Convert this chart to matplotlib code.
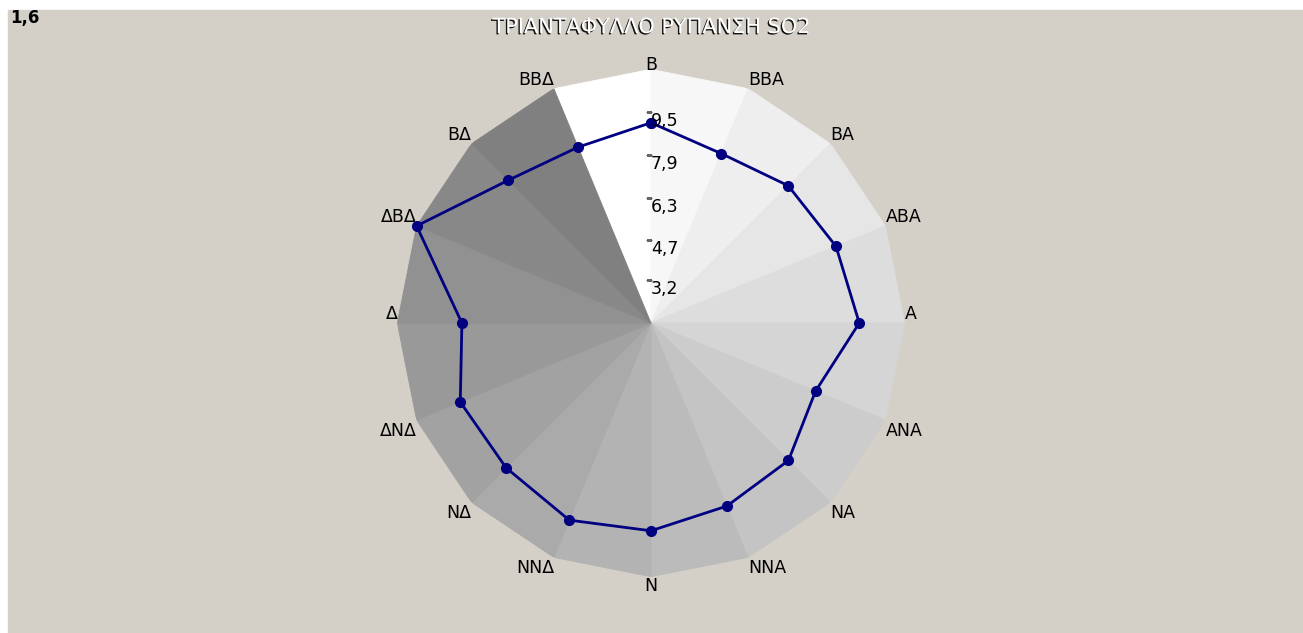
import numpy as np
import matplotlib
matplotlib.use('Agg')
import matplotlib.pyplot as plt
import matplotlib.patheffects as pe
from matplotlib.patches import Rectangle
from matplotlib.transforms import ScaledTranslation

# directions (clockwise from north) and SO2 values
directions = ['Β', 'ΒΒΑ', 'ΒΑ', 'ΑΒΑ', 'Α', 'ΑΝΑ', 'ΝΑ', 'ΝΝΑ',
              'Ν', 'ΝΝΔ', 'ΝΔ', 'ΔΝΔ', 'Δ', 'ΔΒΔ', 'ΒΔ', 'ΒΒΔ']
so2 = [9.10, 8.47, 8.87, 9.10, 9.40, 8.27, 8.88, 9.02,
       9.38, 9.59, 9.27, 9.33, 8.68, 11.10, 9.16, 8.73]

r_min = 1.6
r_max = 11.1
tick_vals = [3.2, 4.7, 6.3, 7.9, 9.5]
tick_labels = ['3,2', '4,7', '6,3', '7,9', '9,5']

title = 'ΤΡΙΑΝΤΑΦΥΛΛΟ ΡΥΠΑΝΣΗ SO2'

plt.rcParams['font.family'] = ['DejaVu Sans']

fig = plt.figure(figsize=(13.03, 6.33), dpi=100, facecolor='white')
# grey panel (leaves a thin white border top/left)
fig.patches.append(Rectangle((8 / 1303, 0), 1, 1 - 10 / 633,
                             transform=fig.transFigure, color='#d4d0c8', zorder=-5))

ax = fig.add_axes([0.3049, 0.0889, 0.3894, 0.8016], projection='polar')
ax.set_theta_zero_location('N')
ax.set_theta_direction(-1)
ax.set_ylim(r_min, r_max)
ax.patch.set_alpha(0)
ax.spines['polar'].set_visible(False)
ax.grid(False)
ax.set_xticks([])
ax.set_yticks([])

n = len(directions)
theta = np.arange(n) * 2 * np.pi / n

# shaded wedges between neighbouring directions (white at ΒΒΔ->Β, then darker clockwise)
greys = np.linspace(255, 128, n) / 255
for i in range(n):
    k = (i - 1) % n          # wedge starting at direction k
    t0 = theta[k]
    t1 = theta[k + 1] if k + 1 < n else 2 * np.pi
    g = greys[i]
    ax.fill([t0, t0, t1], [r_min, r_max, r_max], color=(g, g, g),
            linewidth=0.6, edgecolor=(g, g, g), zorder=1)

# data polygon
tt = np.append(theta, theta[0])
vv = np.append(so2, so2[0])
ax.plot(tt, vv, color='#000080', linewidth=2, marker='o', markersize=7,
        zorder=5, clip_on=False)

# radial tick marks and labels along the north axis
tick_off = ScaledTranslation(-2 / 100, 0, fig.dpi_scale_trans)
ax.plot([0] * len(tick_vals), tick_vals, linestyle='none', marker='_',
        markersize=4, markeredgewidth=0.8, color='#666666',
        transform=ax.transData + tick_off, zorder=4)
for v, lab in zip(tick_vals, tick_labels):
    ax.annotate(lab, xy=(0, v), xytext=(0, 0), textcoords='offset points',
                ha='left', va='top', fontsize=12.5, color='black', zorder=6)

# direction labels at the outer vertices
for t, lab in zip(theta, directions):
    s, c = np.sin(t), np.cos(t)
    if abs(s) < 1e-6:
        ha = 'center'
    elif s > 0:
        ha = 'left'
    else:
        ha = 'right'
    if abs(c) < 1e-6:
        va, dy = 'bottom', 0
    elif abs(s) < 1e-6 and c > 0:
        va, dy = 'bottom', -3.5
    elif abs(s) < 1e-6:
        va, dy = 'top', 0
    elif c > 0:
        va, dy = 'bottom', 0
    else:
        va, dy = 'top', -1.5
    ax.annotate(lab, xy=(t, r_max), xytext=(0, dy), textcoords='offset points',
                ha=ha, va=va, fontsize=12.5, color='black', annotation_clip=False)

# title with embossed look
fig.text(0.5, 1 - 27 / 633, title, ha='center', va='center', fontsize=15,
         color='white',
         path_effects=[pe.SimplePatchShadow(offset=(-1, -1), shadow_rgbFace='black', alpha=0.9),
                       pe.Normal()])
fig.text(10 / 1303, 1 - 18 / 633, '1,6', ha='left', va='center', fontsize=12,
         fontweight='bold', color='black')

fig.savefig('out.png', dpi=100, facecolor=fig.get_facecolor())
